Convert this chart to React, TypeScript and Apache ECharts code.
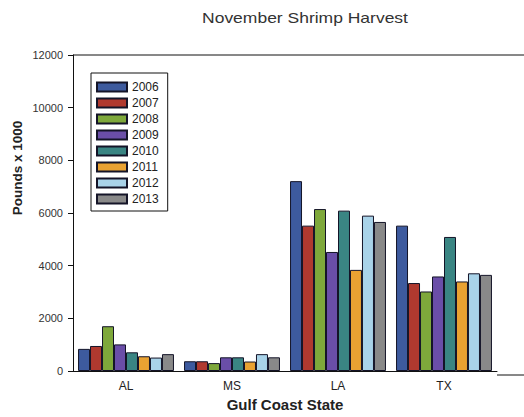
import React, { useEffect, useRef } from "react";
import * as echarts from "echarts";

const categories = ["AL", "MS", "LA", "TX"];
const years = ["2006", "2007", "2008", "2009", "2010", "2011", "2012", "2013"];
const v2006 = [840, 370, 7210, 5520];
const v2007 = [950, 370, 5520, 3340];
const v2008 = [1700, 300, 6150, 3020];
const v2009 = [1010, 520, 4520, 3590];
const v2010 = [710, 520, 6090, 5090];
const v2011 = [560, 360, 3840, 3400];
const v2012 = [510, 640, 5900, 3710];
const v2013 = [640, 520, 5660, 3650];
const seriesValues = [v2006, v2007, v2008, v2009, v2010, v2011, v2012, v2013];
const colors = ["#3D5A9E", "#B0392F", "#7EA83B", "#6A4EA8", "#3A8583", "#E9A232", "#A9D3E9", "#898989"];
const yTicks = [0, 2000, 4000, 6000, 8000, 10000, 12000];

const FONT = "Liberation Sans, Arial, sans-serif";

export default function App() {
  const ref = useRef<HTMLDivElement>(null);
  useEffect(() => {
    if (!ref.current) return;
    const chart = echarts.init(ref.current, null, { renderer: "svg" });
    const gridLeft = 73, gridTop = 55, gridW = 424, gridH = 320;
    chart.setOption({
      animation: false,
      backgroundColor: "#ffffff",
      textStyle: { fontFamily: FONT },
      legend: {
        orient: "vertical",
        left: 91,
        top: 73,
        padding: [8, 9, 6, 5],
        icon: "rect",
        itemWidth: 30,
        itemHeight: 9,
        itemGap: 4,
        borderColor: "#111",
        borderWidth: 1,
        backgroundColor: "#fff",
        textStyle: { fontSize: 12, color: "#222", lineHeight: 12, fontFamily: FONT },
        data: years,
      },
      grid: { left: gridLeft, top: gridTop, width: gridW, height: gridH, containLabel: false },
      xAxis: {
        type: "category",
        data: categories,
        name: "Gulf Coast State",
        nameLocation: "middle",
        nameGap: 26,
        nameTextStyle: { fontSize: 15, fontWeight: "bold", color: "#222", fontFamily: FONT },
        axisLine: { lineStyle: { color: "#111", width: 1 } },
        axisTick: { alignWithLabel: true, length: 5, lineStyle: { color: "#111" } },
        axisLabel: { fontSize: 12, color: "#222", margin: 9, fontFamily: FONT },
      },
      yAxis: {
        type: "value",
        min: 0,
        max: yTicks[yTicks.length - 1],
        interval: 2000,
        axisLine: { show: true, lineStyle: { color: "#111", width: 1 } },
        axisTick: { show: true, length: 5, lineStyle: { color: "#111" } },
        axisLabel: { fontSize: 11, color: "#333", margin: 10, fontFamily: FONT, formatter: (v: number) => String(v) },
        splitLine: { show: false },
      },
      graphic: [
        { type: "line", shape: { x1: gridLeft, y1: gridTop, x2: 524, y2: gridTop }, style: { stroke: "#111", lineWidth: 1 } },
        { type: "line", shape: { x1: gridLeft + gridW, y1: gridTop + gridH, x2: 524, y2: gridTop + gridH }, style: { stroke: "#111", lineWidth: 1 } },
        {
          type: "text",
          x: 305,
          y: 18,
          style: { text: "November Shrimp Harvest", fontSize: 14, fontWeight: "normal", fill: "#333", align: "center", verticalAlign: "middle", fontFamily: FONT },
          scaleX: 1.25,
        },
        {
          type: "text",
          x: 17,
          y: 168,
          rotation: Math.PI / 2,
          style: { text: "Pounds x 1000", fontSize: 13.5, fontWeight: "bold", fill: "#222", align: "center", verticalAlign: "middle", fontFamily: FONT },
        },
      ],
      series: years.map((y, i) => ({
        name: y,
        type: "bar",
        data: seriesValues[i],
        barGap: "0%",
        barCategoryGap: "9.5%",
        itemStyle: { color: colors[i], borderColor: "#141428", borderWidth: 1 },
      })),
    });
    return () => chart.dispose();
  }, []);
  return <div ref={ref} style={{ width: 524, height: 417, position: "absolute", left: 0, top: 0 }} />;
}
